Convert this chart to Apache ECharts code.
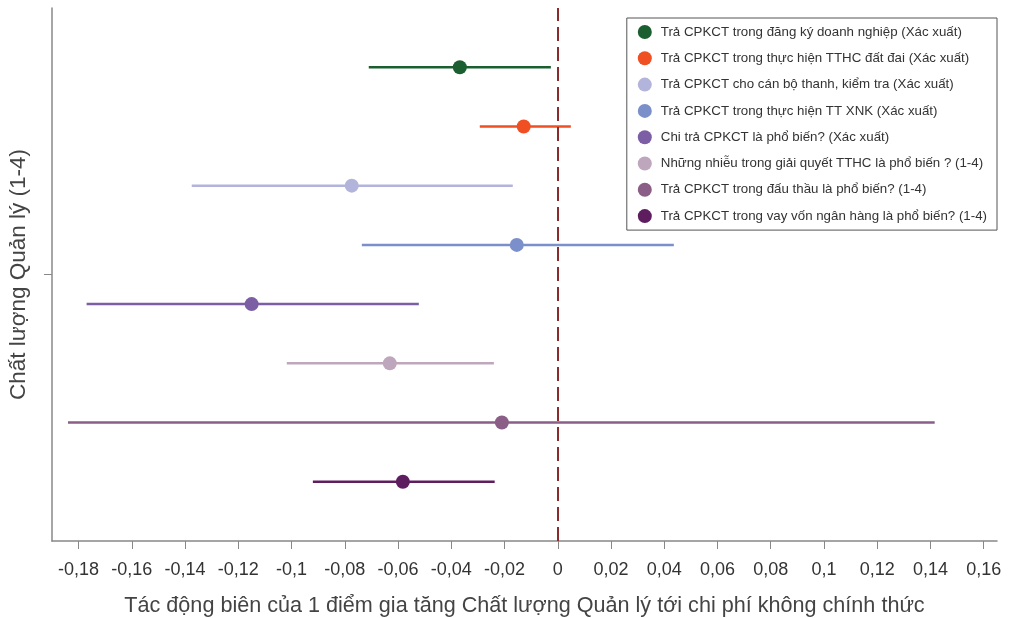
<!DOCTYPE html>
<html><head><meta charset="utf-8">
<script src="https://cdn.jsdelivr.net/npm/echarts@6/dist/echarts.min.js"></script>
<style>html,body{margin:0;padding:0;background:#fff}#c{width:1011px;height:618px}</style>
</head><body><div id="c"></div>
<script>
const names = [
  'Trả CPKCT trong đăng ký doanh nghiệp (Xác xuất)',
  'Trả CPKCT trong thực hiện TTHC đất đai (Xác xuất)',
  'Trả CPKCT cho cán bộ thanh, kiểm tra (Xác xuất)',
  'Trả CPKCT trong thực hiện TT XNK (Xác xuất)',
  'Chi trả CPKCT là phổ biến? (Xác xuất)',
  'Những nhiễu trong giải quyết TTHC là phổ biến ? (1-4)',
  'Trả CPKCT trong đấu thầu là phổ biến? (1-4)',
  'Trả CPKCT trong vay vốn ngân hàng là phổ biến? (1-4)'
];
const estimates = [-0.0368, -0.0128, -0.0774, -0.0154, -0.1150, -0.0631, -0.0210, -0.0582];
const lower     = [-0.0710, -0.0293, -0.1375, -0.0736, -0.1770, -0.1018, -0.1840, -0.0920];
const upper     = [-0.0026,  0.0049, -0.0169,  0.0436, -0.0522, -0.0240,  0.1416, -0.0237];
const rowPos    = [8, 7, 6, 5, 4, 3, 2, 1];
const colors    = ['#1b5e2f', '#f04e23', '#b3b4dc', '#7b8fca', '#7b5ea4', '#bea7bd', '#8a5e86', '#5e1d5e'];
const xTicks    = [-0.18,-0.16,-0.14,-0.12,-0.1,-0.08,-0.06,-0.04,-0.02,0,0.02,0.04,0.06,0.08,0.1,0.12,0.14,0.16];

const FONT = '"Liberation Sans", Arial, Helvetica, sans-serif';
const series = [];
names.forEach((n, i) => {
  series.push({
    type: 'line', xAxisIndex: 0, yAxisIndex: 1, silent: true, symbol: 'none',
    data: [[lower[i], rowPos[i]], [upper[i], rowPos[i]]],
    lineStyle: { color: colors[i], width: 2.5 }, z: 2
  });
});
names.forEach((n, i) => {
  series.push({
    type: 'scatter', name: n, xAxisIndex: 0, yAxisIndex: 1,
    data: [[estimates[i], rowPos[i]]], symbol: 'circle', symbolSize: 14,
    itemStyle: { color: colors[i], opacity: 1 }, z: 3
  });
});
series.push({
  type: 'line', xAxisIndex: 0, yAxisIndex: 1, data: [], silent: true,
  markLine: {
    silent: true, symbol: ['none', 'none'], label: { show: false },
    lineStyle: { color: '#8b2a2a', type: [14, 6], width: 2 },
    data: [{ xAxis: 0 }]
  }
});

const chart = echarts.init(document.getElementById('c'), null, { renderer: 'canvas' });
chart.setOption({
  animation: false,
  backgroundColor: '#fff',
  textStyle: { fontFamily: FONT },
  grid: { left: 52, right: 14, top: 8, bottom: 77, containLabel: false, outerBoundsMode: 'none' },
  legend: {
    data: names, orient: 'vertical', right: 14, top: 18,
    icon: 'circle', itemWidth: 22, itemHeight: 14, itemGap: 12.3,
    padding: [7, 10, 7, 11],
    borderColor: '#555', borderWidth: 1,
    textStyle: { fontSize: 13.3, color: '#333', fontFamily: FONT }
  },
  xAxis: [{
    type: 'value', min: -0.19, max: 0.165,
    name: 'Tác động biên của 1 điểm gia tăng Chất lượng Quản lý tới chi phí không chính thức',
    nameLocation: 'middle', nameGap: 54,
    nameTextStyle: { fontSize: 21.6, color: '#444', fontFamily: FONT },
    axisLine: { show: true, onZero: false, lineStyle: { color: '#888', width: 1.5 } },
    axisTick: { show: true, customValues: xTicks, length: 8, lineStyle: { color: '#888' } },
    axisLabel: { customValues: xTicks, fontSize: 18, color: '#333', margin: 20,
      formatter: v => String(Math.round(v * 100) / 100).replace('.', ',') },
    splitLine: { show: false }
  }],
  yAxis: [{
    type: 'category', data: [''], position: 'left',
    name: 'Chất lượng Quản lý (1-4)', nameLocation: 'middle', nameGap: 22, nameRotate: 90,
    nameTextStyle: { fontSize: 22.5, color: '#444', fontFamily: FONT },
    axisLine: { show: true, onZero: false, lineStyle: { color: '#888', width: 1.5 } },
    axisTick: { show: true, alignWithLabel: true, length: 8, lineStyle: { color: '#888' } },
    axisLabel: { show: false }, splitLine: { show: false }
  }, {
    type: 'value', min: 0, max: 9, show: false, splitLine: { show: false }
  }],
  series: series
});
</script>
</body></html>
